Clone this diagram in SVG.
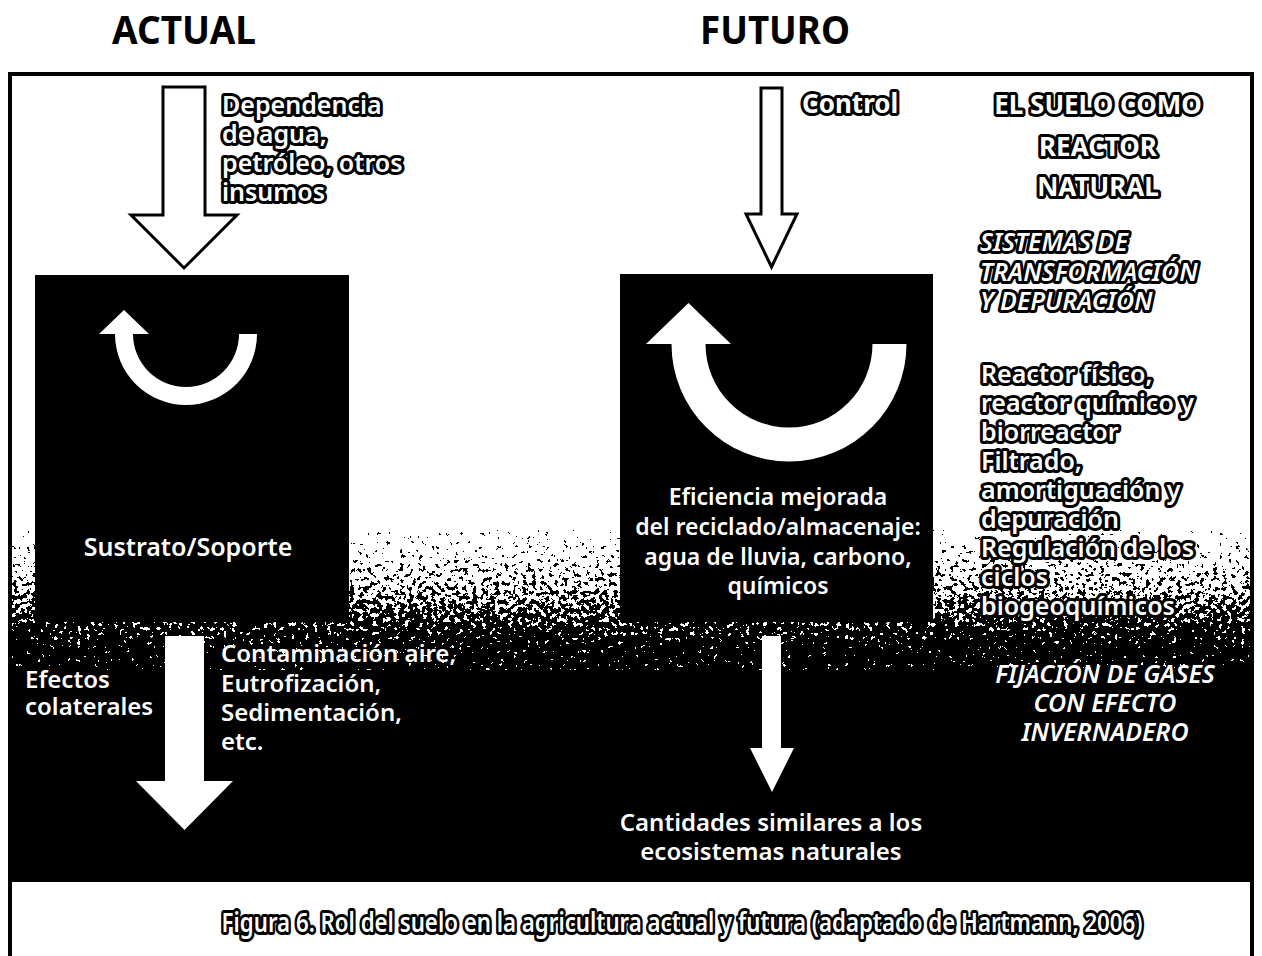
<svg xmlns="http://www.w3.org/2000/svg" width="1262" height="956" viewBox="0 0 1262 956">
<defs>
  <linearGradient id="fade" gradientUnits="userSpaceOnUse" x1="0" y1="540" x2="0" y2="648">
    <stop offset="0" stop-color="#fff"/>
    <stop offset="0.45" stop-color="#a0a0a0"/>
    <stop offset="1" stop-color="#000"/>
  </linearGradient>
  <filter id="grain" x="0" y="0" width="1" height="1" color-interpolation-filters="sRGB">
    <feTurbulence type="fractalNoise" baseFrequency="0.22" numOctaves="3" seed="11" result="n"/>
    <feColorMatrix in="n" type="matrix" values="1 0 0 0 0  1 0 0 0 0  1 0 0 0 0  0 0 0 0 1" result="g"/>
    <feComposite in="SourceGraphic" in2="g" operator="arithmetic" k1="0" k2="1" k3="2.1" k4="-1.05" result="s"/>
    <feComponentTransfer in="s">
      <feFuncR type="discrete" tableValues="0 1"/>
      <feFuncG type="discrete" tableValues="0 1"/>
      <feFuncB type="discrete" tableValues="0 1"/>
      <feFuncA type="linear" slope="0" intercept="1"/>
    </feComponentTransfer>
  </filter>
</defs>
<style>
  text { font-family: "Noto Sans", "Open Sans", sans-serif; font-weight: 600; }
  .title { fill: #000; font-weight: 700; font-size: 40px; text-anchor: middle; }
  .halo { fill: #fff; stroke: #000; stroke-width: 6px; stroke-linejoin: round; paint-order: stroke; font-size: 25px; }
  .haloB { font-weight: 700; font-size: 26px; text-anchor: middle; }
  .it { font-style: italic; }
  .wt { fill: #fff; font-size: 24px; }
  .mid { text-anchor: middle; }
  .box { fill: #000; }
  .outline { fill: #fff; stroke: #000; stroke-width: 3px; stroke-linejoin: miter; }
  .solid { fill: #fff; }
</style>

<rect x="0" y="0" width="1262" height="956" fill="#fff"/>

<!-- soil background -->
<g id="soil">
  <rect x="10" y="530" width="1242" height="150" fill="url(#fade)" filter="url(#grain)"/>
  <rect x="10" y="670" width="1242" height="212" fill="#000"/>
</g>

<!-- frame -->
<path id="frame" d="M10,960 V74 H1252 V960" fill="none" stroke="#000" stroke-width="4"/>

<g id="title-actual"><text class="title" x="184" y="44" textLength="144" lengthAdjust="spacingAndGlyphs">ACTUAL</text></g>
<g id="title-futuro"><text class="title" x="775" y="44" textLength="150" lengthAdjust="spacingAndGlyphs">FUTURO</text></g>

<g id="box-actual">
  <rect class="box" x="35" y="275" width="314" height="347"/>
  <text class="wt mid" x="188" y="556" style="font-size:25px">Sustrato/Soporte</text>
</g>

<g id="box-futuro">
  <rect class="box" x="620" y="274" width="313" height="348"/>
  <text class="wt mid" x="778" y="505" style="font-size:23px">Eficiencia mejorada</text>
  <text class="wt mid" x="778" y="535" style="font-size:23px">del reciclado/almacenaje:</text>
  <text class="wt mid" x="778" y="565" style="font-size:23px">agua de lluvia, carbono,</text>
  <text class="wt mid" x="778" y="594" style="font-size:23px">químicos</text>
</g>

<g id="connectors">
  <polygon class="outline" points="163,87 205,87 205,215 237,215 184,268 131,215 163,215"/>
  <polygon class="outline" points="761,88 782,88 782,214 797,214 771.5,267 746,214 761,214"/>
  <path class="solid" d="M257,334 A71,71 0 0 1 115,334 L99,334 L124,310 L149,334 L133,334 A53,53 0 0 0 239,334 Z"/>
  <path class="solid" d="M906.5,344 A117.5,117.5 0 0 1 671.5,344 L646,344 L688.5,303 L731,344 L705.5,344 A83.5,83.5 0 0 0 872.5,344 Z"/>
  <polygon class="solid" points="165,636 204,636 204,781 233,781 184.5,830 136,781 165,781"/>
  <polygon class="solid" points="762,636 781,636 781,748 794,748 772,792 750,748 762,748"/>
</g>

<g id="label-dependencia">
  <text class="halo" x="222" y="114">Dependencia</text>
  <text class="halo" x="222" y="143">de agua,</text>
  <text class="halo" x="222" y="172">petróleo, otros</text>
  <text class="halo" x="222" y="201">insumos</text>
</g>

<g id="label-control">
  <text class="halo" x="802" y="113" style="font-weight:700;font-size:26px">Control</text>
</g>

<g id="label-reactor">
  <text class="halo haloB" x="1098" y="114">EL SUELO COMO</text>
  <text class="halo haloB" x="1098" y="156">REACTOR</text>
  <text class="halo haloB" x="1098" y="196">NATURAL</text>
</g>

<g id="label-sistemas">
  <text class="halo it" x="980" y="251">SISTEMAS DE</text>
  <text class="halo it" x="980" y="281">TRANSFORMACIÓN</text>
  <text class="halo it" x="980" y="310">Y DEPURACIÓN</text>
</g>

<g id="label-funciones">
  <text class="halo" x="981" y="383">Reactor físico,</text>
  <text class="halo" x="981" y="412">reactor químico y</text>
  <text class="halo" x="981" y="441">biorreactor</text>
  <text class="halo" x="981" y="470">Filtrado,</text>
  <text class="halo" x="981" y="499">amortiguación y</text>
  <text class="halo" x="981" y="528">depuración</text>
  <text class="halo" x="981" y="557">Regulación de los</text>
  <text class="halo" x="981" y="586">ciclos</text>
  <text class="halo" x="981" y="615">biogeoquímicos</text>
</g>

<g id="label-efectos">
  <text class="wt" x="25" y="688">Efectos</text>
  <text class="wt" x="25" y="715">colaterales</text>
</g>

<g id="label-contaminacion">
  <text class="wt" x="221" y="662">Contaminación aire,</text>
  <text class="wt" x="221" y="692">Eutrofización,</text>
  <text class="wt" x="221" y="721">Sedimentación,</text>
  <text class="wt" x="221" y="750">etc.</text>
</g>

<g id="label-cantidades">
  <text class="wt mid" x="771" y="831">Cantidades similares a los</text>
  <text class="wt mid" x="771" y="860">ecosistemas naturales</text>
</g>

<g id="label-fijacion">
  <text class="wt mid it" x="1105" y="683" style="font-size:25px">FIJACIÓN DE GASES</text>
  <text class="wt mid it" x="1105" y="712" style="font-size:25px">CON EFECTO</text>
  <text class="wt mid it" x="1105" y="741" style="font-size:25px">INVERNADERO</text>
</g>

<g id="caption">
  <text class="halo mid" x="682" y="932" style="font-size:27px" textLength="921" lengthAdjust="spacingAndGlyphs">Figura 6. Rol del suelo en la agricultura actual y futura (adaptado de Hartmann, 2006)</text>
</g>
</svg>
